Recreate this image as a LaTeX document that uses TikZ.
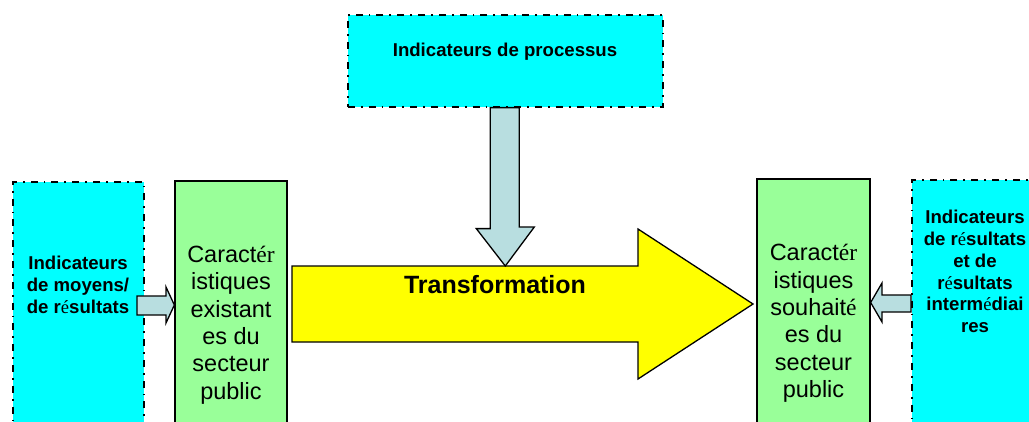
\documentclass[tikz,border=0pt]{standalone}
\usepackage{fontspec}
\setmainfont{Liberation Sans}
\newfontfamily\accfont{Liberation Serif}
\newcommand{\eacc}{{\accfont\mdseries é}}
\definecolor{indcyan}{HTML}{00FFFF}
\definecolor{cargreen}{HTML}{99FF99}
\definecolor{palearrow}{HTML}{B8DEE0}
\definecolor{transyellow}{HTML}{FFFF00}

\begin{document}
\begin{tikzpicture}[x=1pt,y=-1pt]
  \tikzstyle{every node}+=[inner sep=0pt]
  \tikzstyle{ind}=[draw=black, fill=indcyan, line width=1.6pt, dash pattern=on 7pt off 6pt on 1.8pt off 6pt, anchor=north west]
  \tikzstyle{car}=[draw=black, fill=cargreen, line width=1.3pt, align=center, font=\fontsize{23.5}{27.4}\selectfont]
  \tikzstyle{indtxt}=[align=center, font=\fontsize{18.6}{21.7}\selectfont\bfseries]
  \tikzstyle{pale}=[draw=black, fill=palearrow, line width=1.3pt]
  \useasboundingbox (0,0) rectangle (1029,421);
  \clip (0,0) rectangle (1029,421);
  % indicator boxes
  \node [ind, minimum width=315, minimum height=92] (procs) at (347,14) {};
  \node [ind, minimum width=131, minimum height=262] (moyens) at (12,181) {};
  \node [ind, minimum width=130, minimum height=264] (resint) at (911,179) {};
  \node [indtxt] (tprocs) at (505,52) {Indicateurs de processus};
  \node [indtxt] (tmoyens) at (78,285) {Indicateurs\\de moyens/\\de r\eacc sultats};
  \node [indtxt] (tresint) at (975,271.5) {Indicateurs\\de r\eacc sultats\\et de\\r\eacc sultats\\interm\eacc diai\\res};
  % sector boxes
  \node [car, minimum width=112, minimum height=288] (existant) at (231,325) {Caract{\accfont ér}\\istiques\\existant\\es du\\secteur\\public};
  \node [car, minimum width=113, minimum height=289] (souhait) at (813.5,323.5) {Caract{\accfont ér}\\istiques\\souhait\eacc\\es du\\secteur\\public};
  % transformation arrow
  \coordinate (trtop) at (292,266);
  \draw [black, fill=transyellow, line width=1.3pt] (trtop) -- ++(346,0) -- ++(0,-37) -- (753,304) -- (638,379) -- ++(0,-37) -- ++(-346,0) -- cycle;
  \node [font=\fontsize{25}{30}\selectfont\bfseries] (trlabel) at (495,285) {Transformation};
  % small arrows
  \draw [pale] ([xshift=-15pt]procs.south) -- ++(0,121) -- ++(-14,0) -- (procs.south |- trtop) -- ++(29,-39) -- ++(-15,0) -- ([xshift=14pt]procs.south) -- cycle;
  \draw [pale] (137,296) -- (166,296) -- (166,287) -- (existant.west |- 0,305) -- (166,323) -- (166,315) -- (137,315) -- cycle;
  \draw [pale] (resint.west |- 0,295) -- (882,295) -- (882,283) -- (souhait.east |- 0,302.5) -- (882,322) -- (882,312) -- (resint.west |- 0,312) -- cycle;
\end{tikzpicture}
\end{document}
